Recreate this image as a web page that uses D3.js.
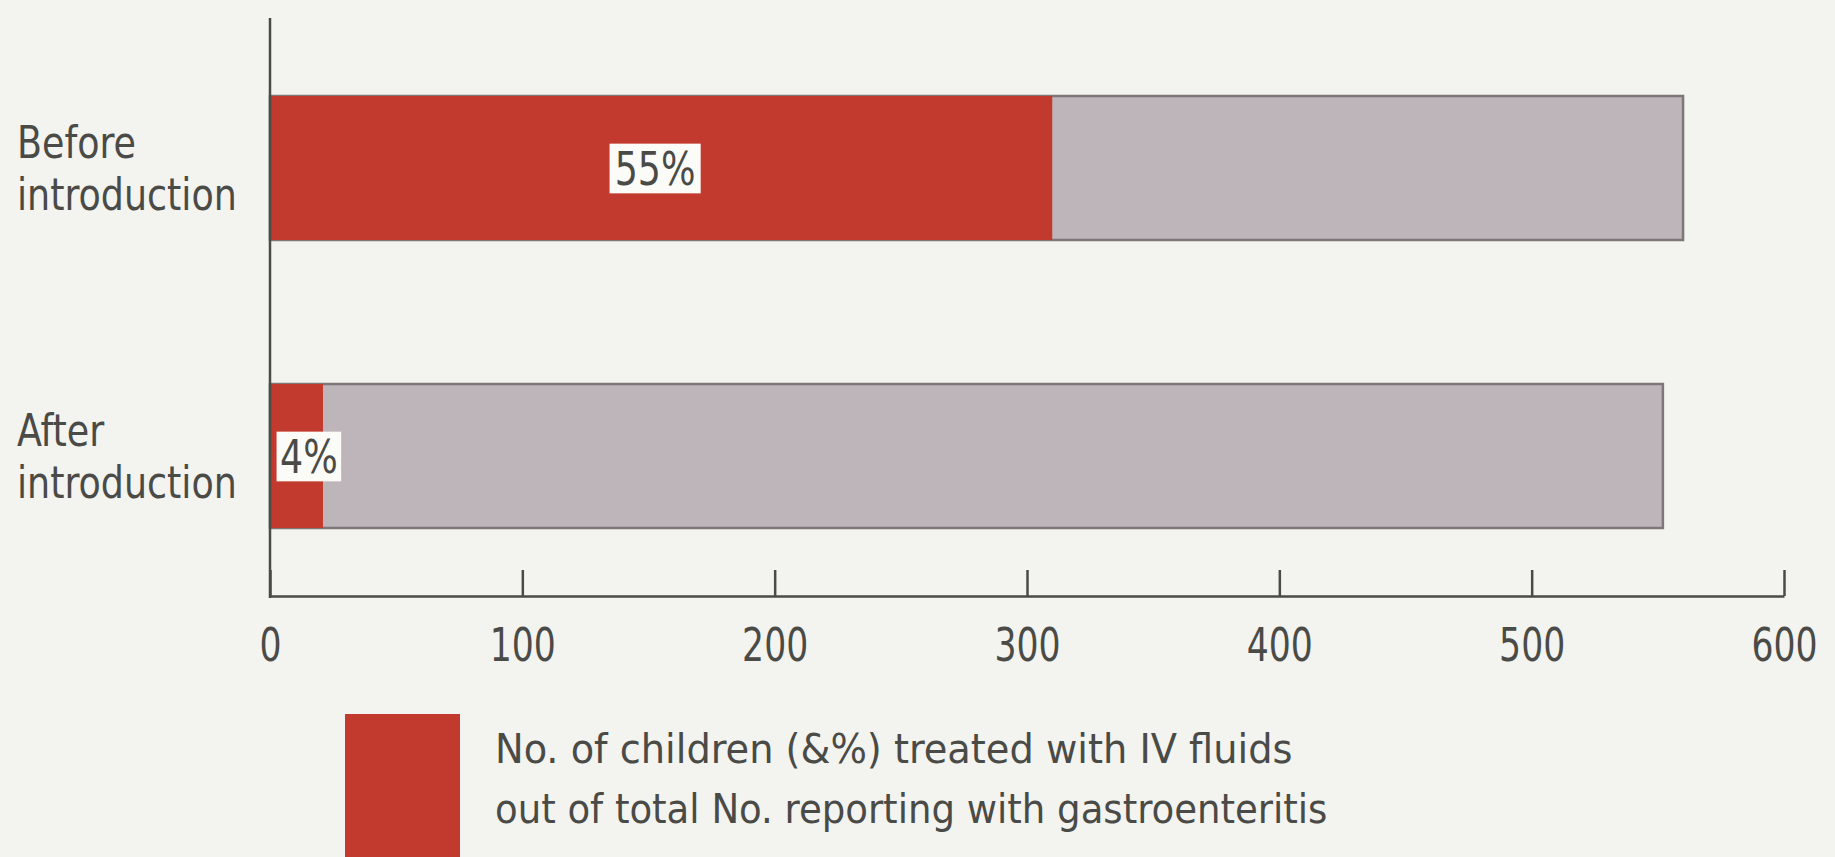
<!DOCTYPE html>
<html>
<head>
<meta charset="utf-8">
<script src="https://cdn.jsdelivr.net/npm/d3@7"></script>
<style>
  html, body { margin: 0; padding: 0; background: #f3f3ef; }
  svg { display: block; }
  text { font-family: "Liberation Sans Narrow", "Arial Narrow", "DejaVu Sans Condensed", sans-serif; fill: #4a4a47; }
</style>
</head>
<body>
<svg id="chart" width="1835" height="857"></svg>
<script>
// Children reporting with gastroenteritis, before and after introduction
const categories = ["Before introduction", "After introduction"];
const categoryLines = [["Before", "introduction"], ["After", "introduction"]];
const treatedIV = [310, 21];        // treated with IV fluids
const totalReported = [560, 552];   // total reporting with gastroenteritis
const percentLabels = ["55%", "4%"];
const xTicks = [0, 100, 200, 300, 400, 500, 600];
const legendLines = [
  "No. of children (&%) treated with IV fluids",
  "out of total No. reporting with gastroenteritis"
];

const RED = "#c23a2e";
const GREY = "#beb5ba";
const INK = "#4a4a47";

const svg = d3.select("#chart");
svg.append("rect").attr("width", 1835).attr("height", 857).attr("fill", "#f3f3ef");

const x = d3.scaleLinear().domain([0, 600]).range([270, 1784]);
const y = d3.scaleBand().domain(categories).range([24, 600]).paddingInner(0.5).paddingOuter(0.25);
const axisY = 596;

const rows = categories.map((c, i) => ({
  cat: c, lines: categoryLines[i], treated: treatedIV[i], total: totalReported[i], pct: percentLabels[i]
}));

// total bars (grey) with a thin dark outline
svg.selectAll("rect.total").data(rows).enter().append("rect")
  .attr("class", "total")
  .attr("x", x(0))
  .attr("y", d => y(d.cat))
  .attr("width", d => x(d.total) - x(0))
  .attr("height", y.bandwidth())
  .attr("fill", GREY)
  .attr("stroke", "#7d7778")
  .attr("stroke-width", 2.5);

// treated portion (red)
svg.selectAll("rect.treated").data(rows).enter().append("rect")
  .attr("class", "treated")
  .attr("x", x(0))
  .attr("y", d => y(d.cat))
  .attr("width", d => x(d.treated) - x(0))
  .attr("height", y.bandwidth())
  .attr("fill", RED);

// percentage tags: condensed text on a white box
const tags = svg.selectAll("g.tag").data(rows).enter().append("g").attr("class", "tag");
tags.each(function(d, i) {
  const cy = y(d.cat) + y.bandwidth() / 2 - 1;
  const sx = 0.86;
  const anchorX = i === 0 ? (x(0) + x(d.treated)) / 2 - 6 : x(0) + 10;
  const g = d3.select(this).attr("transform", `translate(${anchorX},${cy}) scale(${sx},1)`);
  const t = g.append("text")
    .attr("font-size", 47)
    .attr("dominant-baseline", "central")
    .attr("text-anchor", i === 0 ? "middle" : "start")
    .attr("x", 0).attr("y", 1)
    .text(d.pct);
  const bb = t.node().getBBox();
  const padX = i === 0 ? 6 : 4;
  g.insert("rect", "text")
    .attr("x", bb.x - padX)
    .attr("y", bb.y + 3)
    .attr("width", bb.width + 2 * padX)
    .attr("height", bb.height - 5)
    .attr("fill", "#fbfbf8");
});

// vertical axis line
svg.append("line")
  .attr("x1", x(0)).attr("x2", x(0))
  .attr("y1", 18).attr("y2", axisY + 2)
  .attr("stroke", INK).attr("stroke-width", 2.5);

// horizontal axis with inward ticks
const xAxis = d3.axisBottom(x)
  .tickValues(xTicks)
  .tickFormat(d3.format("d"))
  .tickSizeInner(-26)
  .tickSizeOuter(0)
  .tickPadding(32);

const gx = svg.append("g").attr("transform", `translate(0,${axisY})`).call(xAxis);
gx.select(".domain").attr("stroke", INK).attr("stroke-width", 2.5);
gx.selectAll(".tick line").attr("stroke", INK).attr("stroke-width", 2.5);
gx.selectAll(".tick text")
  .attr("font-size", 47)
  .attr("fill", INK)
  .attr("transform", "scale(0.82,1)")
  .style("font-family", "'Liberation Sans Narrow', 'Arial Narrow', 'DejaVu Sans Condensed', sans-serif");

// category labels, two lines each
svg.selectAll("text.cat").data(rows).enter().append("text")
  .attr("class", "cat")
  .attr("font-size", 45)
  .attr("transform", d => `translate(17,${y(d.cat) + y.bandwidth() / 2}) scale(0.9,1)`)
  .each(function(d) {
    d3.select(this).selectAll("tspan").data(d.lines).enter().append("tspan")
      .attr("x", 0)
      .attr("y", (l, j) => -10 + j * 52)
      .text(l => l);
  });

// legend
svg.append("rect")
  .attr("x", 345).attr("y", 714)
  .attr("width", 115).attr("height", 160)
  .attr("fill", RED);

svg.selectAll("text.legend").data(legendLines).enter().append("text")
  .attr("class", "legend")
  .attr("transform", (d, i) => `translate(495,${763 + i * 60}) scale(${i === 0 ? 1.065 : 1.03},1)`)
  .attr("font-size", 40)
  .text(d => d);
</script>
</body>
</html>
